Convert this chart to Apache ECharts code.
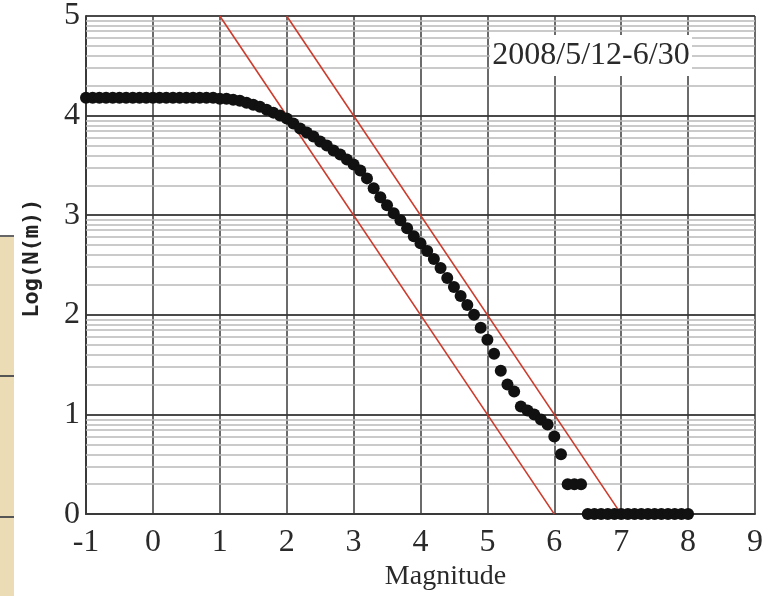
<!DOCTYPE html>
<html>
<head>
<meta charset="utf-8">
<script src="https://cdn.jsdelivr.net/npm/echarts@6/dist/echarts.min.js"></script>
<style>
  html, body { margin: 0; padding: 0; background: #ffffff; }
  #chart { width: 776px; height: 596px; }
</style>
</head>
<body>
<div id="chart"></div>
<script>
// Cumulative frequency-magnitude data: magnitude bins and log10 of event counts
const magnitude = [
  -1.0, -0.9, -0.8, -0.7, -0.6, -0.5, -0.4, -0.3, -0.2, -0.1,
   0.0,  0.1,  0.2,  0.3,  0.4,  0.5,  0.6,  0.7,  0.8,  0.9,
   1.0,  1.1,  1.2,  1.3,  1.4,  1.5,  1.6,  1.7,  1.8,  1.9,
   2.0,  2.1,  2.2,  2.3,  2.4,  2.5,  2.6,  2.7,  2.8,  2.9,
   3.0,  3.1,  3.2,  3.3,  3.4,  3.5,  3.6,  3.7,  3.8,  3.9,
   4.0,  4.1,  4.2,  4.3,  4.4,  4.5,  4.6,  4.7,  4.8,  4.9,
   5.0,  5.1,  5.2,  5.3,  5.4,  5.5,  5.6,  5.7,  5.8,  5.9,
   6.0,  6.1,  6.2,  6.3,  6.4,  6.5,  6.6,  6.7,  6.8,  6.9,
   7.0,  7.1,  7.2,  7.3,  7.4,  7.5,  7.6,  7.7,  7.8,  7.9,
   8.0
];
const logN = [
  4.18, 4.18, 4.18, 4.18, 4.18, 4.18, 4.18, 4.18, 4.18, 4.18,
  4.18, 4.18, 4.18, 4.18, 4.18, 4.18, 4.18, 4.18, 4.18, 4.18,
  4.17, 4.17, 4.16, 4.15, 4.13, 4.11, 4.09, 4.06, 4.03, 4.00,
  3.97, 3.92, 3.87, 3.83, 3.79, 3.74, 3.70, 3.65, 3.61, 3.56,
  3.51, 3.45, 3.37, 3.27, 3.18, 3.10, 3.02, 2.95, 2.87, 2.79,
  2.72, 2.64, 2.56, 2.47, 2.37, 2.28, 2.19, 2.10, 2.00, 1.87,
  1.75, 1.61, 1.44, 1.30, 1.23, 1.08, 1.04, 1.00, 0.95, 0.90,
  0.78, 0.60, 0.30, 0.30, 0.30, 0.00, 0.00, 0.00, 0.00, 0.00,
  0.00, 0.00, 0.00, 0.00, 0.00, 0.00, 0.00, 0.00, 0.00, 0.00,
  0.00
];

// Two parallel reference lines with slope -1
const refLineA = [[1, 5], [6, 0]];
const refLineB = [[2, 5], [7, 0]];

// Axis ranges
const xRange = { min: -1, max: 9, step: 1 };
const yRange = { min: 0, max: 5, step: 1 };

const periodLabel = '2008/5/12-6/30';
const xName = 'Magnitude';
const yName = 'Log(N(m))';

// Log-paper minor rulings inside each decade
const minorLevels = [];
for (let d = yRange.min; d < yRange.max; d++) {
  for (let k = 2; k <= 9; k++) minorLevels.push(d + Math.log10(k));
}

const serif = "'Liberation Serif', 'Times New Roman', serif";
const ink = '#2a2a2a';

const chart = echarts.init(document.getElementById('chart'), null, { renderer: 'canvas' });

chart.setOption({
  animation: false,
  backgroundColor: '#ffffff',
  grid: { left: 86, right: 21, top: 13, bottom: 79 },
  xAxis: {
    type: 'value',
    min: xRange.min, max: xRange.max, interval: xRange.step,
    axisLine: { show: true, onZero: false, lineStyle: { color: '#3a3a3a', width: 2 } },
    axisTick: { show: false },
    splitLine: { show: true, lineStyle: { color: '#3a3a3a', width: 1.5 } },
    axisLabel: { fontFamily: serif, fontSize: 32, color: ink, margin: 12 },
    name: xName,
    nameLocation: 'middle',
    nameGap: 42,
    nameTextStyle: { fontFamily: serif, fontSize: 28, color: ink, padding: [0, 0, 0, 50] }
  },
  yAxis: {
    type: 'value',
    min: yRange.min, max: yRange.max, interval: yRange.step,
    axisLine: { show: true, onZero: false, lineStyle: { color: '#3a3a3a', width: 2 } },
    axisTick: { show: false },
    splitLine: { show: true, lineStyle: { color: '#4a4a4a', width: 2 } },
    axisLabel: { fontFamily: serif, fontSize: 32, color: ink, margin: 6, padding: [13, 0, 0, 0] },
    name: yName,
    nameLocation: 'middle',
    nameRotate: 90,
    nameGap: 43,
    nameTextStyle: {
      fontFamily: "'DejaVu Sans Mono', monospace", fontWeight: 'bold', fontSize: 22, color: '#222',
      padding: [0, 0, 0, 14]
    }
  },
  series: [
    {
      type: 'line',
      data: [],
      z: 1,
      silent: true,
      markLine: {
        z: 1,
        silent: true,
        symbol: ['none', 'none'],
        label: { show: false },
        lineStyle: { color: '#b8b8b8', width: 1.6, type: 'solid' },
        emphasis: { disabled: true },
        data: minorLevels.map(v => ({ yAxis: v }))
      }
    },
    {
      type: 'line',
      data: refLineA,
      z: 3,
      symbol: 'none',
      silent: true,
      lineStyle: { color: '#cc3b2c', width: 1.6 }
    },
    {
      type: 'line',
      data: refLineB,
      z: 3,
      symbol: 'none',
      silent: true,
      lineStyle: { color: '#cc3b2c', width: 1.6 }
    },
    {
      type: 'scatter',
      z: 4,
      symbol: 'circle',
      symbolSize: 12,
      itemStyle: { color: '#111111', opacity: 1 },
      data: magnitude.map((m, i) => [m, logN[i]])
    }
  ],
  graphic: [
    // Beige side strip with rules at the left margin
    { type: 'rect', z: 5, shape: { x: 0, y: 236, width: 14, height: 360 }, style: { fill: '#ecdcb6' } },
    { type: 'line', z: 6, shape: { x1: 0, y1: 236, x2: 14, y2: 236 }, style: { stroke: '#666', lineWidth: 2 } },
    { type: 'line', z: 6, shape: { x1: 0, y1: 376, x2: 14, y2: 376 }, style: { stroke: '#555', lineWidth: 2 } },
    { type: 'line', z: 6, shape: { x1: 0, y1: 517, x2: 14, y2: 517 }, style: { stroke: '#555', lineWidth: 2 } },
    // Period label on a white plate
    { type: 'rect', z: 10, shape: { x: 490, y: 35, width: 202, height: 41 }, style: { fill: '#ffffff' } },
    {
      type: 'text', z: 11, x: 591, y: 56,
      style: {
        text: periodLabel, fontFamily: serif, fontSize: 32, fill: ink,
        align: 'center', verticalAlign: 'middle'
      }
    }
  ]
});
</script>
</body>
</html>
